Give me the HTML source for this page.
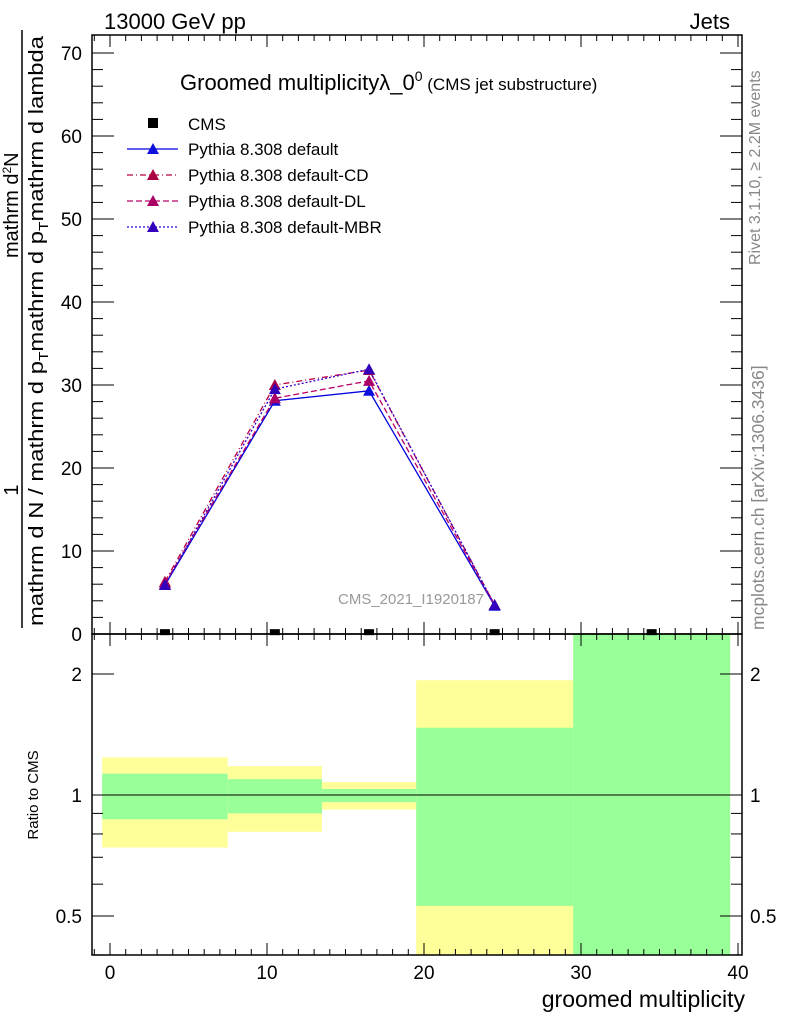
<!DOCTYPE html>
<html><head><meta charset="utf-8"><style>
body{margin:0;background:#fff;}
svg{display:block;font-family:"Liberation Sans",sans-serif;}
</style></head><body>
<svg id="c" width="786" height="1024" viewBox="0 0 786 1024">
<g id="bands"></g>
<g id="marks"></g>
<g id="axes"></g>
<text x="104" y="29" font-size="22">13000 GeV pp</text>
<text x="730" y="29" font-size="22" text-anchor="end">Jets</text>
<text x="180" y="90" font-size="22">Groomed multiplicityλ_0<tspan font-size="14" dy="-9">0</tspan><tspan font-size="17" dy="9"> (CMS jet substructure)</tspan></text>
<text x="338" y="604" font-size="15" fill="#999">CMS_2021_I1920187</text>
<text x="745" y="1007" font-size="23" text-anchor="end">groomed multiplicity</text>
<text transform="translate(38,795) rotate(-90)" font-size="15" text-anchor="middle">Ratio to CMS</text>
<g font-size="20">
<text transform="translate(18,490) rotate(-90)" text-anchor="middle">1</text>
<line x1="22" y1="628" x2="22" y2="30" stroke="#000" stroke-width="1.5"/>
<text transform="translate(43,626) rotate(-90)" textLength="590" lengthAdjust="spacingAndGlyphs">mathrm d N / mathrm d p<tspan font-size="13" dy="5">T</tspan><tspan dy="-5">mathrm d p</tspan><tspan font-size="13" dy="5">T</tspan><tspan dy="-5">mathrm d lambda</tspan></text>
<text transform="translate(18,258) rotate(-90)">mathrm d<tspan font-size="12" dy="-7">2</tspan><tspan dy="7">N</tspan></text>
</g>
<text transform="translate(760,265) rotate(-90)" font-size="16" fill="#888">Rivet 3.1.10, ≥ 2.2M events</text>
<text transform="translate(764,630) rotate(-90)" font-size="17.5" fill="#888">mcplots.cern.ch [arXiv:1306.3436]</text>
<g id="legend"></g>
</svg>
<script>
const xEdgesLo=[-0.5,7.5,13.5,19.5,29.5];
const xEdgesHi=[7.5,13.5,19.5,29.5,39.5];
const xCenters=[3.5,10.5,16.5,24.5,34.5];
const cmsVals=[0.1,0.1,0.1,0.1,0.1];
const mcX=[3.5,10.5,16.5,24.5];
const pyDefault=[5.9,28.1,29.3,3.4];
const pyCD=[6.3,30.0,31.8,3.5];
const pyDL=[6.1,28.4,30.5,3.5];
const pyMBR=[5.9,29.5,31.9,3.5];
const yellowLo=[0.74,0.81,0.92,0.3,0.3];
const yellowHi=[1.24,1.18,1.077,1.93,3];
const greenLo=[0.87,0.90,0.96,0.53,0.3];
const greenHi=[1.13,1.095,1.035,1.47,3];
const xTicks=[0,10,20,30,40];
const yTicks=[0,10,20,30,40,50,60,70];
const rTicks=[0.5,1,2];

const NS="http://www.w3.org/2000/svg";
const L=92,R=742,T=35,MB=634,RB=955;
const sx=v=>110+v*15.7;
const sy=v=>634-v*8.3;
const sr=v=>795-121*Math.log2(v);
const cr=v=>Math.max(MB,Math.min(RB,v));
function mk(tag,attrs,parent){const e=document.createElementNS(NS,tag);for(const k in attrs)e.setAttribute(k,attrs[k]);parent.appendChild(e);return e;}
const bands=document.getElementById('bands'),marks=document.getElementById('marks'),axes=document.getElementById('axes'),leg=document.getElementById('legend');

for(let i=0;i<xEdgesLo.length;i++){
 const x1=Math.max(L,sx(xEdgesLo[i])),x2=Math.min(R,sx(xEdgesHi[i]));
 const yt=cr(sr(yellowHi[i])),yb=cr(sr(yellowLo[i]));
 const y=mk('rect',{x:x1,y:yt,width:x2-x1,height:yb-yt,fill:'#ffff99'},bands);
 
 
 const gt=cr(sr(greenHi[i])),gb=cr(sr(greenLo[i]));
 const g=mk('rect',{x:x1,y:gt,width:x2-x1,height:gb-gt,fill:'#99ff99'},bands);
 
 
}
const ref=mk('line',{x1:L,x2:R,y1:sr(1),y2:sr(1),stroke:'#000','stroke-width':1},bands);



const series=[
 {name:'Pythia 8.308 default',vals:pyDefault,col:'#0000dd',dash:'',tc:'#1010dd'},
 {name:'Pythia 8.308 default-CD',vals:pyCD,col:'#bb0044',dash:'6,3,1,3',tc:'#aa0044'},
 {name:'Pythia 8.308 default-DL',vals:pyDL,col:'#bb0066',dash:'6,3',tc:'#aa0066'},
 {name:'Pythia 8.308 default-MBR',vals:pyMBR,col:'#3300cc',dash:'2,2',tc:'#3300bb'}
];
function tri(x,y,c,p){return mk('polygon',{points:`${x},${y-6} ${x-6},${y+5} ${x+6},${y+5}`,fill:c},p);}
series.forEach((s,si)=>{
 const pts=mcX.map((x,i)=>sx(x)+','+sy(s.vals[i])).join(' ');
 const pl=mk('polyline',{points:pts,fill:'none',stroke:s.col,'stroke-width':1.3,'stroke-dasharray':s.dash},marks);
 
 
 mcX.forEach((x,i)=>{const t=tri(sx(x),sy(s.vals[i]),s.tc,marks);
  
  });
 const ly=149+si*26;
 const ll=mk('line',{x1:127,x2:178,y1:ly,y2:ly,stroke:s.col,'stroke-width':1.3,'stroke-dasharray':s.dash},leg);
 
 
 const lt=tri(153,ly,s.tc,leg);
 
 
 const tx=mk('text',{x:188,y:ly+6,'font-size':17},leg);tx.textContent=s.name;
 
 
});
xCenters.forEach((x,i)=>{const r=mk('rect',{x:sx(x)-5,y:sy(cmsVals[i])-4,width:10,height:6,fill:'#000'},marks);
 
 });
const cl=mk('rect',{x:148,y:118,width:10,height:10,fill:'#000'},leg);


const ct=mk('text',{x:188,y:130,'font-size':17},leg);ct.textContent='CMS';



mk('rect',{x:L,y:T,width:R-L,height:MB-T,fill:'none',stroke:'#000','stroke-width':1.5},axes);
mk('rect',{x:L,y:MB,width:R-L,height:RB-MB,fill:'none',stroke:'#000','stroke-width':1.5},axes);
for(let v=-1;v<=40;v++){const x=sx(v);if(x<L||x>R)continue;const maj=v%10===0;const h=maj?12:6;
 [T,MB,RB].forEach(yb=>{
  if(yb!==T)mk('line',{x1:x,x2:x,y1:yb,y2:yb-h,stroke:'#000'},axes);
  if(yb!==RB)mk('line',{x1:x,x2:x,y1:yb,y2:yb+h,stroke:'#000'},axes);
 });}
xTicks.forEach(v=>{const t=mk('text',{x:sx(v),y:979,'font-size':19,'text-anchor':'middle'},axes);t.textContent=v;
 
 });
for(let v=0;v<=70;v+=2){const y=sy(v);const h=v%10===0?22:11;
 mk('line',{x1:L,x2:L+h,y1:y,y2:y,stroke:'#000'},axes);
 mk('line',{x1:R,x2:R-h,y1:y,y2:y,stroke:'#000'},axes);}
yTicks.forEach(v=>{const t=mk('text',{x:82,y:sy(v)+7,'font-size':19,'text-anchor':'end'},axes);t.textContent=v;
 
 });
[0.4,0.5,0.6,0.7,0.8,0.9,1,2].forEach(v=>{const y=sr(v);const h=rTicks.includes(v)?22:11;
 mk('line',{x1:L,x2:L+h,y1:y,y2:y,stroke:'#000'},axes);
 mk('line',{x1:R,x2:R-h,y1:y,y2:y,stroke:'#000'},axes);});
rTicks.forEach(v=>{[[82,'end'],[750,'start']].forEach(([x,a])=>{const t=mk('text',{x:x,y:sr(v)+7,'font-size':19,'text-anchor':a},axes);t.textContent=v;
 
 });});
</script>
</body></html>
